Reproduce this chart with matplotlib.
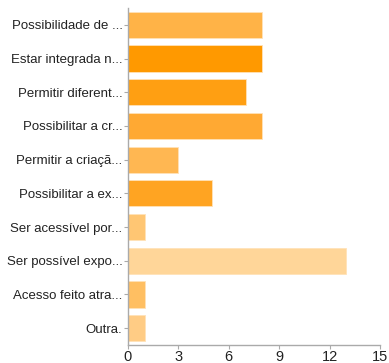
import matplotlib
matplotlib.use("Agg")
import matplotlib.pyplot as plt

categories = [
    "Possibilidade de ...",
    "Estar integrada n...",
    "Permitir diferent...",
    "Possibilitar a cr...",
    "Permitir a criaçã...",
    "Possibilitar a ex...",
    "Ser acessível por...",
    "Ser possível expo...",
    "Acesso feito atra...",
    "Outra.",
]
values = [8, 8, 7, 8, 3, 5, 1, 13, 1, 1]
colors = ["#FFB347", "#FF9900", "#FF9F12", "#FFA933", "#FFB752",
          "#FFA422", "#FFC673", "#FFD699", "#FFBF62", "#FFCC85"]
x_ticks = [0, 3, 6, 9, 12, 15]

plt.rcParams["font.family"] = ["Liberation Sans", "DejaVu Sans"]

fig = plt.figure(figsize=(3.89, 3.63), dpi=100)
ax = fig.add_axes([128 / 389, 1 - 345 / 363, 252 / 389, 337 / 363])

pos = list(range(len(categories)))
ax.barh(pos, values, height=0.78, color=colors, edgecolor="#FFE2B8",
        linewidth=0.6)

ax.set_xlim(0, 15)
ax.set_ylim(len(categories) - 0.5, -0.5)
ax.set_xticks(x_ticks)
ax.set_xticklabels([str(t) for t in x_ticks], fontsize=10.5, color="#222222")
ax.set_yticks(pos)
ax.set_yticklabels(categories, fontsize=9.5, color="#222222")

for side in ("top", "right"):
    ax.spines[side].set_visible(False)
for side in ("left", "bottom"):
    ax.spines[side].set_color("#aaaaaa")
    ax.spines[side].set_linewidth(1)
ax.tick_params(axis="both", colors="#aaaaaa", length=3, width=0.8,
               labelcolor="#222222")
ax.tick_params(axis="x", pad=0.5)
ax.tick_params(axis="y", pad=1)

fig.savefig("out.png", dpi=100)
